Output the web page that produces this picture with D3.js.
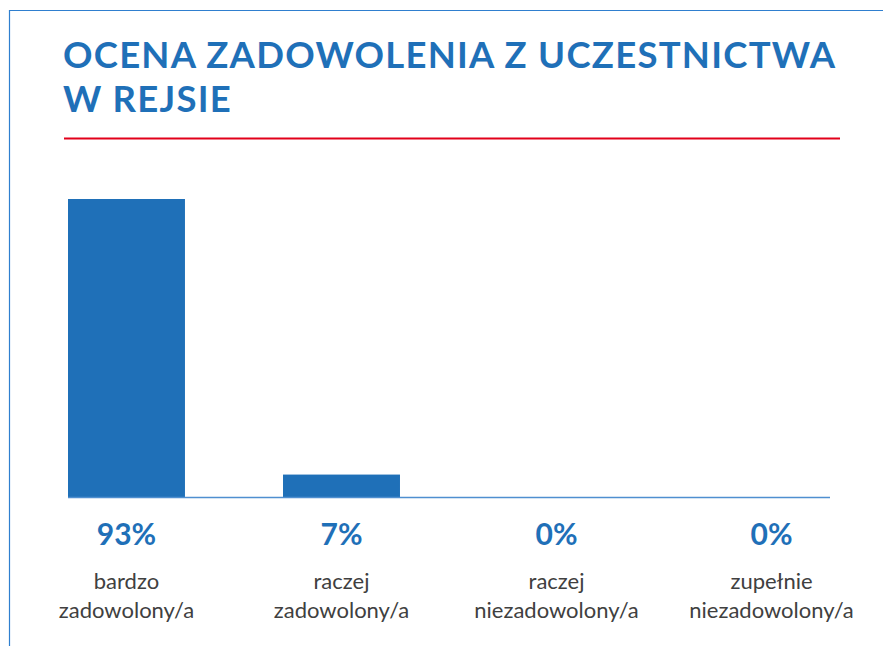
<!DOCTYPE html>
<html>
<head>
<meta charset="utf-8">
<script src="https://cdn.jsdelivr.net/npm/d3@7"></script>
<style>
  body { margin: 0; background: #fff; }
  svg { display: block; }
</style>
</head>
<body>
<div id="chart"></div>
<script>
// chart data
var categories = ["bardzo|zadowolony/a", "raczej|zadowolony/a", "raczej|niezadowolony/a", "zupełnie|niezadowolony/a"];
var values = [93, 7, 0, 0];
var titleLines = ["OCENA ZADOWOLENIA Z UCZESTNICTWA", "W REJSIE"];

var width = 883, height = 646;
var blue = "#1f70b8";
var font = "Lato, 'Open Sans', sans-serif";

var svg = d3.select("#chart")
  .append("svg")
  .attr("width", width)
  .attr("height", height);

// frame (top + left edges)
svg.append("path")
  .attr("d", "M9.5," + height + "V10.5H" + width)
  .attr("fill", "none")
  .attr("stroke", "#2f7fcf")
  .attr("stroke-width", 1.2);

// title
svg.append("g")
  .selectAll("text")
  .data(titleLines)
  .enter().append("text")
  .attr("x", 63)
  .attr("y", (d, i) => 68 + i * 44)
  .attr("font-family", font)
  .attr("font-weight", "bold")
  .attr("font-size", 36.5)
  .attr("letter-spacing", 1.25)
  .attr("fill", blue)
  .text(d => d);

// red rule under title
svg.append("line")
  .attr("x1", 64).attr("x2", 840)
  .attr("y1", 138.5).attr("y2", 138.5)
  .attr("stroke", "#e2001a")
  .attr("stroke-width", 2.2);

// scales
var x = d3.scaleBand()
  .domain(categories)
  .range([68, 830])
  .paddingInner(0.456)
  .paddingOuter(0);

var y = d3.scaleLinear()
  .domain([0, 93])
  .range([497, 199]);

// bars
svg.selectAll(".bar")
  .data(values)
  .enter().append("rect")
  .attr("class", "bar")
  .attr("x", (d, i) => x(categories[i]))
  .attr("y", d => y(d))
  .attr("width", x.bandwidth())
  .attr("height", d => y(0) - y(d))
  .attr("fill", blue);

// baseline
svg.append("line")
  .attr("x1", 68).attr("x2", 830)
  .attr("y1", y(0) + 0.5).attr("y2", y(0) + 0.5)
  .attr("stroke", "#4f8fd0")
  .attr("stroke-width", 1.5);

// value labels
svg.selectAll(".val")
  .data(values)
  .enter().append("text")
  .attr("class", "val")
  .attr("x", (d, i) => x(categories[i]) + x.bandwidth() / 2)
  .attr("y", 545)
  .attr("text-anchor", "middle")
  .attr("font-family", font)
  .attr("font-weight", "bold")
  .attr("font-size", 30)
  .attr("fill", blue)
  .text(d => d + "%");

// category labels (two lines)
var cat = svg.selectAll(".cat")
  .data(categories)
  .enter().append("text")
  .attr("class", "cat")
  .attr("text-anchor", "middle")
  .attr("font-family", font)
  .attr("font-size", 22)
  .attr("fill", "#404040");

cat.selectAll("tspan")
  .data(d => d.split("|").map(s => ({ s: s, c: d })))
  .enter().append("tspan")
  .attr("x", d => x(d.c) + x.bandwidth() / 2)
  .attr("y", (d, i) => 589 + i * 29)
  .text(d => d.s);
</script>
</body>
</html>
